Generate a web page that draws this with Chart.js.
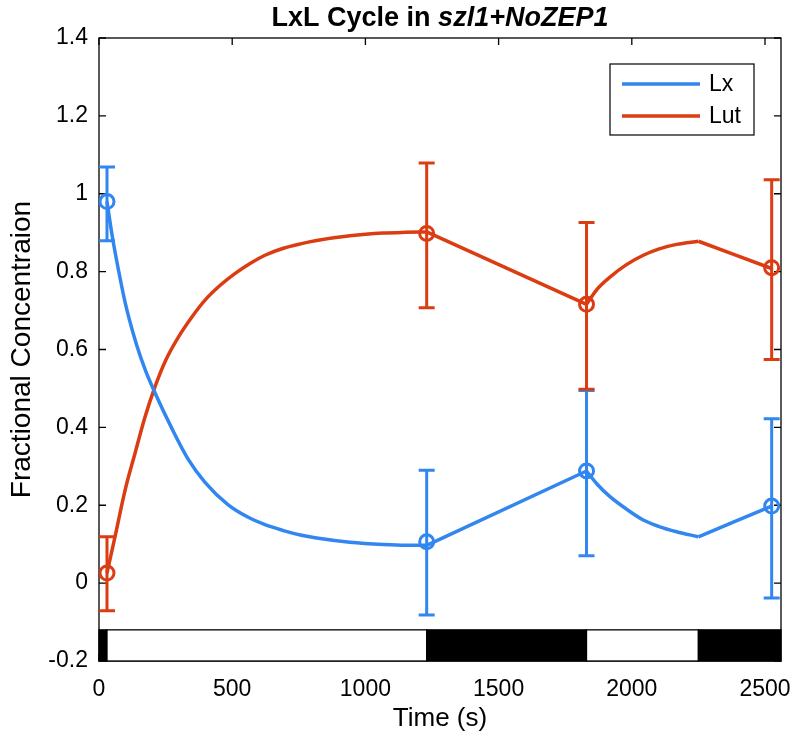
<!DOCTYPE html>
<html>
<head>
<meta charset="utf-8">
<title>LxL Cycle in szl1+NoZEP1</title>
<script src="https://cdn.jsdelivr.net/npm/chart.js@4.4.1/dist/chart.umd.min.js"></script>
<style>
    html, body { margin: 0; padding: 0; background: #fff; }
    #wrap { width: 793px; height: 744px; }
</style>
</head>
<body>
<div id="wrap"><canvas id="cycleChart" width="793" height="744"></canvas></div>
<script>
// Measured samples (mean and error bar ends)
const sampleTimes = [30, 1230, 1830, 2525];
const lxMean = [0.98, 0.106, 0.288, 0.198];
const lxLow = [0.879, -0.082, 0.070, -0.038];
const lxHigh = [1.069, 0.290, 0.495, 0.422];
const lutMean = [0.026, 0.898, 0.716, 0.81];
const lutLow = [-0.071, 0.707, 0.498, 0.574];
const lutHigh = [0.119, 1.079, 0.926, 1.036];

// Model curves
const lxCurveTime = [30, 50, 70, 100, 141, 175, 210, 273, 335, 398, 485, 560, 623, 692, 760, 817, 942, 1067, 1150, 1230, 1830, 1870, 1918, 1980, 2043, 2100, 2168, 2250, 2525];
const lxCurveValue = [0.98, 0.89, 0.815, 0.715, 0.612, 0.545, 0.489, 0.398, 0.318, 0.259, 0.201, 0.169, 0.150, 0.135, 0.123, 0.116, 0.105, 0.099, 0.097, 0.097, 0.288, 0.254, 0.222, 0.19, 0.162, 0.146, 0.132, 0.119, 0.198];
const lutCurveTime = [30, 60, 98, 135, 173, 210, 250, 298, 348, 398, 455, 510, 567, 623, 692, 760, 817, 942, 1067, 1150, 1230, 1830, 1870, 1918, 1980, 2043, 2100, 2168, 2250, 2525];
const lutCurveValue = [0.026, 0.119, 0.239, 0.333, 0.427, 0.504, 0.572, 0.632, 0.683, 0.727, 0.765, 0.795, 0.821, 0.842, 0.860, 0.872, 0.880, 0.892, 0.899, 0.901, 0.902, 0.716, 0.755, 0.786, 0.818, 0.842, 0.858, 0.870, 0.878, 0.808];

// Light switches (curves have a kink there)
const switchTimes = [1230, 1830, 2250];

// Light / dark bar along the bottom
const phaseStart = [0, 30, 1230, 1830, 2250];
const phaseEnd = [30, 1230, 1830, 2250, 2560];
const phaseDark = [true, false, true, false, true];

// Axis ticks
const xTickValues = [0, 500, 1000, 1500, 2000, 2500];
const yTickValues = [-0.2, 0, 0.2, 0.4, 0.6, 0.8, 1, 1.2, 1.4];

const seriesNames = ['Lx', 'Lut'];

const BLUE = '#3187ef';
const ORANGE = '#db3c12';
const FONT = "'Liberation Sans', Arial, Helvetica, sans-serif";

// Split a curve into pieces at the light switches
function splitCurve(times, values) {
    const pieces = [[]];
    times.forEach((t, i) => {
        pieces[pieces.length - 1].push({ x: t, y: values[i] });
        if (switchTimes.includes(t)) {
            pieces.push([{ x: t, y: values[i] }]);
        }
    });
    return pieces.filter(p => p.length > 1);
}

function curveDatasets(times, values, color) {
    return splitCurve(times, values).map(piece => ({
        data: piece,
        showLine: true,
        borderColor: color,
        borderWidth: 3.5,
        pointRadius: 0,
        cubicInterpolationMode: 'monotone',
        fill: false
    }));
}

function markerDataset(means, color) {
    return {
        data: sampleTimes.map((t, i) => ({ x: t, y: means[i] })),
        showLine: false,
        pointStyle: 'circle',
        pointRadius: 7,
        borderWidth: 3,
        borderColor: color,
        backgroundColor: 'rgba(0,0,0,0)'
    };
}

function drawErrorBars(ctx, x, y, low, high, color) {
    ctx.save();
    ctx.strokeStyle = color;
    ctx.lineWidth = 3;
    sampleTimes.forEach((t, i) => {
        const px = x.getPixelForValue(t);
        const pl = y.getPixelForValue(low[i]);
        const ph = y.getPixelForValue(high[i]);
        ctx.beginPath();
        ctx.moveTo(px, pl);
        ctx.lineTo(px, ph);
        ctx.moveTo(px - 8, pl);
        ctx.lineTo(px + 8, pl);
        ctx.moveTo(px - 8, ph);
        ctx.lineTo(px + 8, ph);
        ctx.stroke();
    });
    ctx.restore();
}

// Box, inward ticks, light bar, error bars, legend and title
const matlabLook = {
    id: 'matlabLook',
    beforeDatasetsDraw(chart) {
        const { ctx, chartArea: a, scales: { x, y } } = chart;
        ctx.save();
        ctx.strokeStyle = '#000';
        ctx.lineWidth = 1.3;
        ctx.strokeRect(a.left, a.top, a.right - a.left, a.bottom - a.top);
        ctx.beginPath();
        x.ticks.forEach(t => {
            const px = x.getPixelForValue(t.value);
            ctx.moveTo(px, a.bottom);
            ctx.lineTo(px, a.bottom - 7);
            ctx.moveTo(px, a.top);
            ctx.lineTo(px, a.top + 7);
        });
        y.ticks.forEach(t => {
            const py = y.getPixelForValue(t.value);
            ctx.moveTo(a.left, py);
            ctx.lineTo(a.left + 7, py);
            ctx.moveTo(a.right, py);
            ctx.lineTo(a.right - 7, py);
        });
        ctx.stroke();

        // light / dark bar
        const top = y.getPixelForValue(-0.12);
        const bottom = y.getPixelForValue(-0.2);
        phaseStart.forEach((s, i) => {
            const x0 = x.getPixelForValue(s);
            const x1 = x.getPixelForValue(phaseEnd[i]);
            ctx.fillStyle = phaseDark[i] ? '#000' : '#fff';
            ctx.fillRect(x0, top, x1 - x0, bottom - top);
            ctx.strokeRect(x0, top, x1 - x0, bottom - top);
        });
        ctx.restore();
    },
    afterDatasetsDraw(chart) {
        const { ctx, chartArea: a, scales: { x, y } } = chart;
        drawErrorBars(ctx, x, y, lxLow, lxHigh, BLUE);
        drawErrorBars(ctx, x, y, lutLow, lutHigh, ORANGE);

        // legend
        ctx.save();
        const bx = a.right - 171, by = a.top + 26, bw = 144, bh = 71;
        ctx.fillStyle = '#fff';
        ctx.fillRect(bx, by, bw, bh);
        ctx.strokeStyle = '#000';
        ctx.lineWidth = 1.2;
        ctx.strokeRect(bx, by, bw, bh);
        [BLUE, ORANGE].forEach((c, i) => {
            const ly = by + 20 + i * 32;
            ctx.strokeStyle = c;
            ctx.lineWidth = 3.5;
            ctx.beginPath();
            ctx.moveTo(bx + 12, ly);
            ctx.lineTo(bx + 90, ly);
            ctx.stroke();
            ctx.fillStyle = '#000';
            ctx.font = '23px ' + FONT;
            ctx.textBaseline = 'middle';
            ctx.textAlign = 'left';
            ctx.fillText(seriesNames[i], bx + 99, ly + 1);
        });

        // title: plain part + italic strain name
        const plain = 'LxL Cycle in ';
        const strain = 'szl1+NoZEP1';
        ctx.font = 'bold 27px ' + FONT;
        const w1 = ctx.measureText(plain).width;
        ctx.font = 'italic bold 27px ' + FONT;
        const w2 = ctx.measureText(strain).width;
        const tx = (a.left + a.right) / 2 - (w1 + w2) / 2;
        ctx.textBaseline = 'alphabetic';
        ctx.fillStyle = '#000';
        ctx.font = 'bold 27px ' + FONT;
        ctx.fillText(plain, tx, 26);
        ctx.font = 'italic bold 27px ' + FONT;
        ctx.fillText(strain, tx + w1, 26);
        ctx.restore();
    }
};

const datasets = [
    ...curveDatasets(lxCurveTime, lxCurveValue, BLUE),
    ...curveDatasets(lutCurveTime, lutCurveValue, ORANGE),
    markerDataset(lxMean, BLUE),
    markerDataset(lutMean, ORANGE)
];

const chart = new Chart(document.getElementById('cycleChart'), {
    type: 'scatter',
    data: { datasets: datasets },
    options: {
        responsive: false,
        animation: false,
        layout: { padding: { top: 38, right: 12, left: 0, bottom: 0 } },
        plugins: {
            legend: { display: false },
            tooltip: { enabled: false }
        },
        scales: {
            x: {
                type: 'linear',
                min: 0,
                max: 2560,
                afterBuildTicks: scale => { scale.ticks = xTickValues.map(v => ({ value: v })); },
                afterFit: scale => {
                    scale.height = 83;
                    scale.paddingLeft = 0;
                    scale.paddingRight = 0;
                },
                grid: { display: false, drawTicks: false },
                border: { display: false },
                ticks: {
                    padding: 15,
                    color: '#000',
                    font: { family: FONT, size: 23 },
                    callback: v => String(v)
                },
                title: {
                    display: true,
                    text: 'Time (s)',
                    color: '#000',
                    font: { family: FONT, size: 26 },
                    padding: { top: 0, bottom: 10 }
                }
            },
            y: {
                min: -0.2,
                max: 1.4,
                afterBuildTicks: scale => { scale.ticks = yTickValues.map(v => ({ value: v })); },
                afterFit: scale => {
                    scale.width = 99;
                    scale.paddingTop = 0;
                    scale.paddingBottom = 0;
                },
                grid: { display: false, drawTicks: false },
                border: { display: false },
                ticks: {
                    padding: 11,
                    color: '#000',
                    font: { family: FONT, size: 23 },
                    callback: v => parseFloat(v.toFixed(1)).toString()
                },
                title: {
                    display: true,
                    text: 'Fractional Concentraion',
                    color: '#000',
                    font: { family: FONT, size: 28 },
                    padding: { top: 5, bottom: 0 }
                }
            }
        }
    },
    plugins: [matlabLook]
});
</script>
</body>
</html>
